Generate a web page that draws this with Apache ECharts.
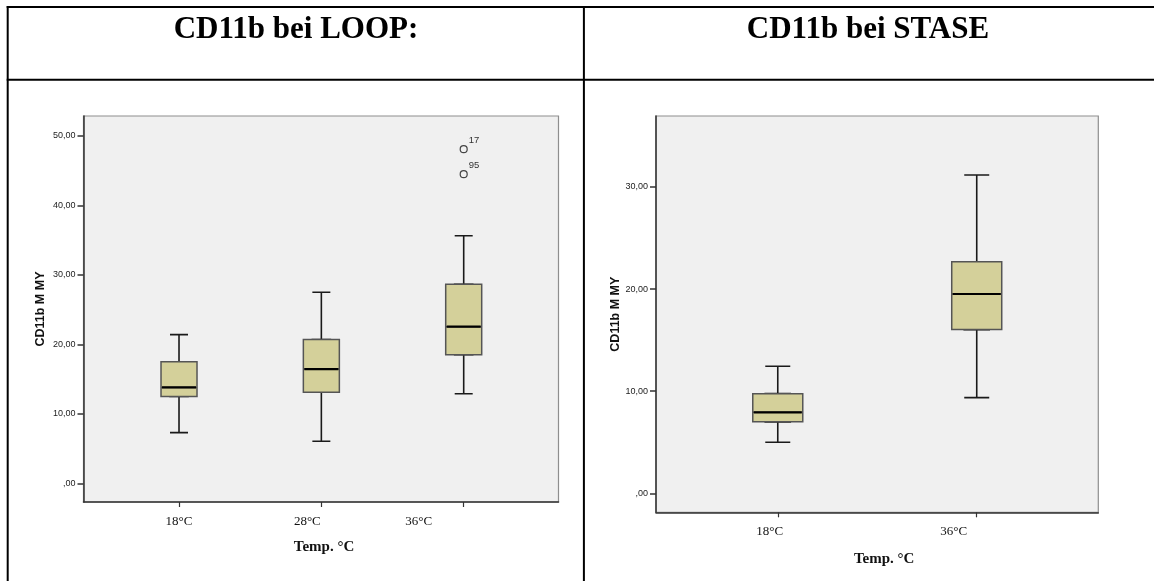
<!DOCTYPE html>
<html><head><meta charset="utf-8">
<script src="https://cdn.jsdelivr.net/npm/echarts@6/dist/echarts.min.js"></script>
<style>html,body{margin:0;padding:0;background:#fff;} #c{width:1154px;height:581px;}</style>
</head><body><div id="c"></div>
<script>
// ---------------- data ----------------
const titles = ['CD11b bei LOOP:', 'CD11b bei STASE'];
const yName = 'CD11b M MY';
const xName = 'Temp. °C';

const catsLoop = ['18°C', '28°C', '36°C'];
// each: [min, Q1, median, Q3, max]
const boxLoop = [
  [7.3, 12.5, 13.8, 17.5, 21.4],
  [6.05, 13.1, 16.45, 20.7, 27.5],
  [12.9, 18.5, 22.55, 28.65, 35.65]
];
const outlierCatLoop = [3, 3];
const outlierValLoop = [48.1, 44.5];
const outlierIdLoop = ['17', '95'];
const yTicksLoop = [0, 10, 20, 30, 40, 50];
const yTickLabelsLoop = [',00', '10,00', '20,00', '30,00', '40,00', '50,00'];

const catsStase = ['18°C', '36°C'];
const boxStase = [
  [5.0, 7.0, 7.93, 9.76, 12.44],
  [9.37, 16.03, 19.52, 22.68, 31.17]
];
const yTicksStase = [0, 10, 20, 30];
const yTickLabelsStase = [',00', '10,00', '20,00', '30,00'];

// ---------------- layout / style ----------------
const panels = [
  { cats: catsLoop, box: boxLoop, yTicks: yTicksLoop, yLabels: yTickLabelsLoop,
    grid: { left: 83.5, top: 116, width: 475, height: 386 },
    xRange: [0.329, 3.666], yRange: [-2.69, 52.88],
    boxW: 36, capW: 18, labelShift: [0, -14, -45], nameGapY: 36, nameGapX: 38, nameShiftX: 3 },
  { cats: catsStase, box: boxStase, yTicks: yTicksStase, yLabels: yTickLabelsStase,
    grid: { left: 656, top: 116, width: 442.3, height: 396.3 },
    xRange: [0.388, 2.611], yRange: [-1.86, 36.95],
    boxW: 50, capW: 25, labelShift: [-8, -23], nameGapY: 33, nameGapX: 39, nameShiftX: 7 }
];
const BOX_FILL = '#d4d09a';
const SERIF = '"Liberation Serif", "Times New Roman", serif';
const SANS = '"Liberation Sans", Arial, sans-serif';

const grid = [], xAxis = [], yAxis = [], series = [];
panels.forEach((p, i) => {
  grid.push(Object.assign({ show: true, backgroundColor: '#f0f0f0', borderColor: '#8e8e8e', borderWidth: 1.2,
    containLabel: false, outerBoundsMode: 'none' }, p.grid));
  const catVals = p.cats.map((_, k) => k + 1);
  const rich = {};
  p.labelShift.forEach((s, k) => {
    rich['s' + k] = { fontFamily: SERIF, fontSize: 13, color: '#111',
      padding: [0, s < 0 ? -2 * s : 0, 0, s > 0 ? 2 * s : 0] };
  });
  xAxis.push({
    type: 'value', gridIndex: i, min: p.xRange[0], max: p.xRange[1],
    axisLine: { show: true, onZero: false, lineStyle: { color: '#333', width: 1.5 } },
    axisTick: { show: true, customValues: catVals, length: 5, lineStyle: { color: '#333', width: 1.2 } },
    axisLabel: { customValues: catVals, margin: 13, fontFamily: SERIF, fontSize: 13, color: '#111',
      formatter: v => { const k = Math.round(v) - 1; return '{s' + k + '|' + p.cats[k] + '}'; }, rich: rich },
    splitLine: { show: false },
    name: xName, nameLocation: 'middle', nameGap: p.nameGapX,
    nameTextStyle: { fontFamily: SERIF, fontWeight: 'bold', fontSize: 15, color: '#111',
      padding: [0, 0, 0, 2 * p.nameShiftX] }
  });
  xAxis.push({ type: 'value', gridIndex: i, min: p.xRange[0], max: p.xRange[1], show: false });
  xAxis.push({ type: 'value', gridIndex: i, min: p.xRange[0], max: p.xRange[1], show: false });
  yAxis.push({
    type: 'value', gridIndex: i, min: p.yRange[0], max: p.yRange[1],
    axisLine: { show: true, onZero: false, lineStyle: { color: '#333', width: 1.5 } },
    axisTick: { show: true, customValues: p.yTicks, length: 6, lineStyle: { color: '#333', width: 1.5 } },
    axisLabel: { customValues: p.yTicks, margin: 8, fontFamily: SANS, fontSize: 9, color: '#222',
      formatter: v => p.yLabels[p.yTicks.indexOf(Math.round(v))] },
    splitLine: { show: false },
    name: yName, nameLocation: 'middle', nameGap: p.nameGapY,
    nameTextStyle: { fontFamily: SANS, fontWeight: 'bold', fontSize: 12.5, color: '#111' }
  });
  // whiskers + caps (narrow)
  series.push({ type: 'boxplot', xAxisIndex: 3 * i, yAxisIndex: i, boxWidth: [p.capW, p.capW],
    data: p.box.map((b, k) => [k + 1, b[0], b[1], b[2], b[3], b[4]]),
    itemStyle: { color: BOX_FILL, borderColor: '#1a1a1a', borderWidth: 1.6 } });
  // box
  series.push({ type: 'boxplot', xAxisIndex: 3 * i + 1, yAxisIndex: i, boxWidth: [p.boxW, p.boxW],
    data: p.box.map((b, k) => [k + 1, b[1], b[1], b[2], b[3], b[3]]),
    itemStyle: { color: BOX_FILL, borderColor: '#555', borderWidth: 1.5 } });
  // median
  series.push({ type: 'boxplot', xAxisIndex: 3 * i + 2, yAxisIndex: i, boxWidth: [p.boxW - 2, p.boxW - 2],
    data: p.box.map((b, k) => [k + 1, b[2], b[2], b[2], b[2], b[2]]),
    itemStyle: { color: '#000', borderColor: '#000', borderWidth: 2.2 } });
});

series.push({
  type: 'scatter', xAxisIndex: 0, yAxisIndex: 0,
  data: outlierValLoop.map((v, k) => [outlierCatLoop[k], v]),
  symbol: 'circle', symbolSize: 7,
  itemStyle: { color: '#f0f0f0', borderColor: '#444', borderWidth: 1.2, opacity: 1 },
  label: { show: true, position: 'right', distance: 1, offset: [0, -9],
    formatter: q => outlierIdLoop[q.dataIndex], fontFamily: SANS, fontSize: 9.5, color: '#333' }
});

const lineStyle = { stroke: '#000', lineWidth: 2 };
const titleStyle = (t) => ({ text: t, align: 'center', verticalAlign: 'middle', textAlign: 'center',
  textVerticalAlign: 'middle', font: 'bold 31px ' + SERIF, fill: '#000' });
const graphic = [
  { type: 'line', shape: { x1: 6.7, y1: 7, x2: 1154, y2: 7 }, style: lineStyle },
  { type: 'line', shape: { x1: 6.7, y1: 79.8, x2: 1154, y2: 79.8 }, style: lineStyle },
  { type: 'line', shape: { x1: 7.7, y1: 6, x2: 7.7, y2: 581 }, style: lineStyle },
  { type: 'line', shape: { x1: 583.9, y1: 6, x2: 583.9, y2: 581 }, style: lineStyle },
  { type: 'text', x: 296, y: 30, style: titleStyle(titles[0]) },
  { type: 'text', x: 868, y: 30, style: titleStyle(titles[1]) }
];

const chart = echarts.init(document.getElementById('c'), null, { renderer: 'canvas' });
chart.setOption({ animation: false, backgroundColor: '#fff', grid, xAxis, yAxis, series, graphic, tooltip: { show: false } });
</script>
</body></html>
